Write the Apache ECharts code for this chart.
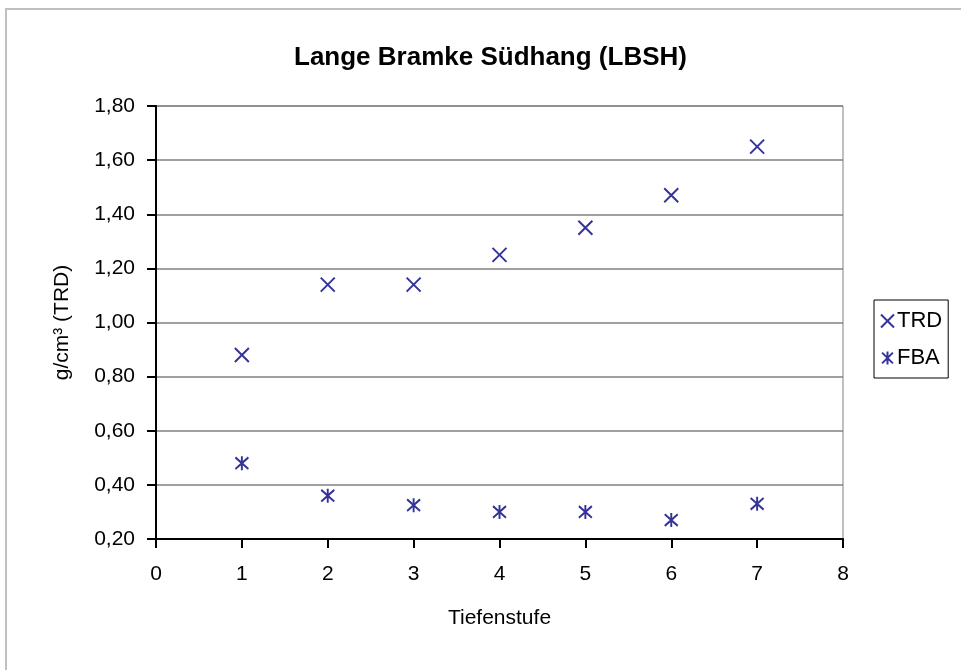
<!DOCTYPE html>
<html>
<head>
<meta charset="utf-8">
<script src="https://cdn.jsdelivr.net/npm/echarts@6/dist/echarts.min.js"></script>
<style>
  html, body { margin: 0; padding: 0; background: #fff; }
  #frame { position: absolute; left: 5px; top: 8px; width: 1000px; height: 700px;
           border-top: 2px solid #c0c0c0; border-left: 2px solid #c0c0c0; }
  #chart { position: absolute; left: 0; top: 0; width: 961px; height: 670px; }
</style>
</head>
<body>
<div id="frame"></div>
<div id="chart"></div>
<script>
// Tiefenstufe (depth level) and measured values
const depth = [1, 2, 3, 4, 5, 6, 7];
const trd = [0.88, 1.14, 1.14, 1.25, 1.35, 1.47, 1.65];
const fba = [0.48, 0.36, 0.325, 0.30, 0.30, 0.27, 0.33];

const navy = '#000080';
const crossPath = 'path://M0,0L10,10M10,0L0,10';
const starPath = 'path://M0,0L10,10M10,0L0,10M5,-1L5,11';
const font = 'Liberation Sans, Arial, sans-serif';

const chart = echarts.init(document.getElementById('chart'), null, {renderer: 'canvas'});

const markerStyle = {color: 'transparent', borderColor: navy, borderWidth: 2};

chart.setOption({
  animation: false,
  backgroundColor: 'transparent',
  title: {
    text: 'Lange Bramke Südhang (LBSH)',
    left: 294,
    top: 45,
    padding: 0,
    textStyle: {fontFamily: font, fontSize: 26, fontWeight: 'bold', color: '#000'}
  },
  legend: {
    orient: 'vertical',
    left: 874,
    top: 300,
    padding: [10, 6, 9, 6],
    itemGap: 15,
    itemWidth: 13,
    itemHeight: 13,
    borderColor: '#000',
    borderWidth: 1,
    borderRadius: 0,
    textStyle: {fontFamily: font, fontSize: 22, color: '#000', padding: [0, 0, 0, -2]},
    data: [
      {name: 'TRD', icon: crossPath, itemStyle: markerStyle},
      {name: 'FBA', icon: starPath, itemStyle: markerStyle}
    ]
  },
  grid: {
    left: 156, top: 106, width: 687, height: 433,
    show: true, borderColor: '#808080', borderWidth: 1, backgroundColor: '#fff'
  },
  xAxis: {
    type: 'value',
    min: 0, max: 8, interval: 1,
    name: 'Tiefenstufe',
    nameLocation: 'middle',
    nameGap: 69,
    nameTextStyle: {fontFamily: font, fontSize: 21, color: '#000'},
    axisLine: {lineStyle: {color: '#000', width: 2}},
    axisTick: {show: true, inside: false, length: 9, lineStyle: {color: '#000', width: 2}},
    axisLabel: {fontFamily: font, fontSize: 21, color: '#000', margin: 25},
    splitLine: {show: false}
  },
  yAxis: {
    type: 'value',
    min: 0.2, max: 1.8, interval: 0.2,
    name: 'g/cm³ (TRD)',
    nameLocation: 'middle',
    nameGap: 83,
    nameTextStyle: {fontFamily: font, fontSize: 21, color: '#000'},
    axisLine: {show: true, lineStyle: {color: '#000', width: 2}},
    axisTick: {show: true, inside: false, length: 9, lineStyle: {color: '#000', width: 2}},
    axisLabel: {
      fontFamily: font, fontSize: 21, color: '#000', margin: 21,
      formatter: v => v.toFixed(2).replace('.', ',')
    },
    splitLine: {show: true, lineStyle: {color: '#808080', width: 1.5}}
  },
  series: [
    {
      name: 'TRD',
      type: 'scatter',
      symbol: crossPath,
      symbolSize: [14, 14],
      itemStyle: markerStyle,
      emphasis: {disabled: true},
      data: depth.map((d, i) => [d, trd[i]])
    },
    {
      name: 'FBA',
      type: 'scatter',
      symbol: starPath,
      symbolSize: [13, 14],
      itemStyle: markerStyle,
      emphasis: {disabled: true},
      data: depth.map((d, i) => [d, fba[i]])
    }
  ]
});
</script>
</body>
</html>
